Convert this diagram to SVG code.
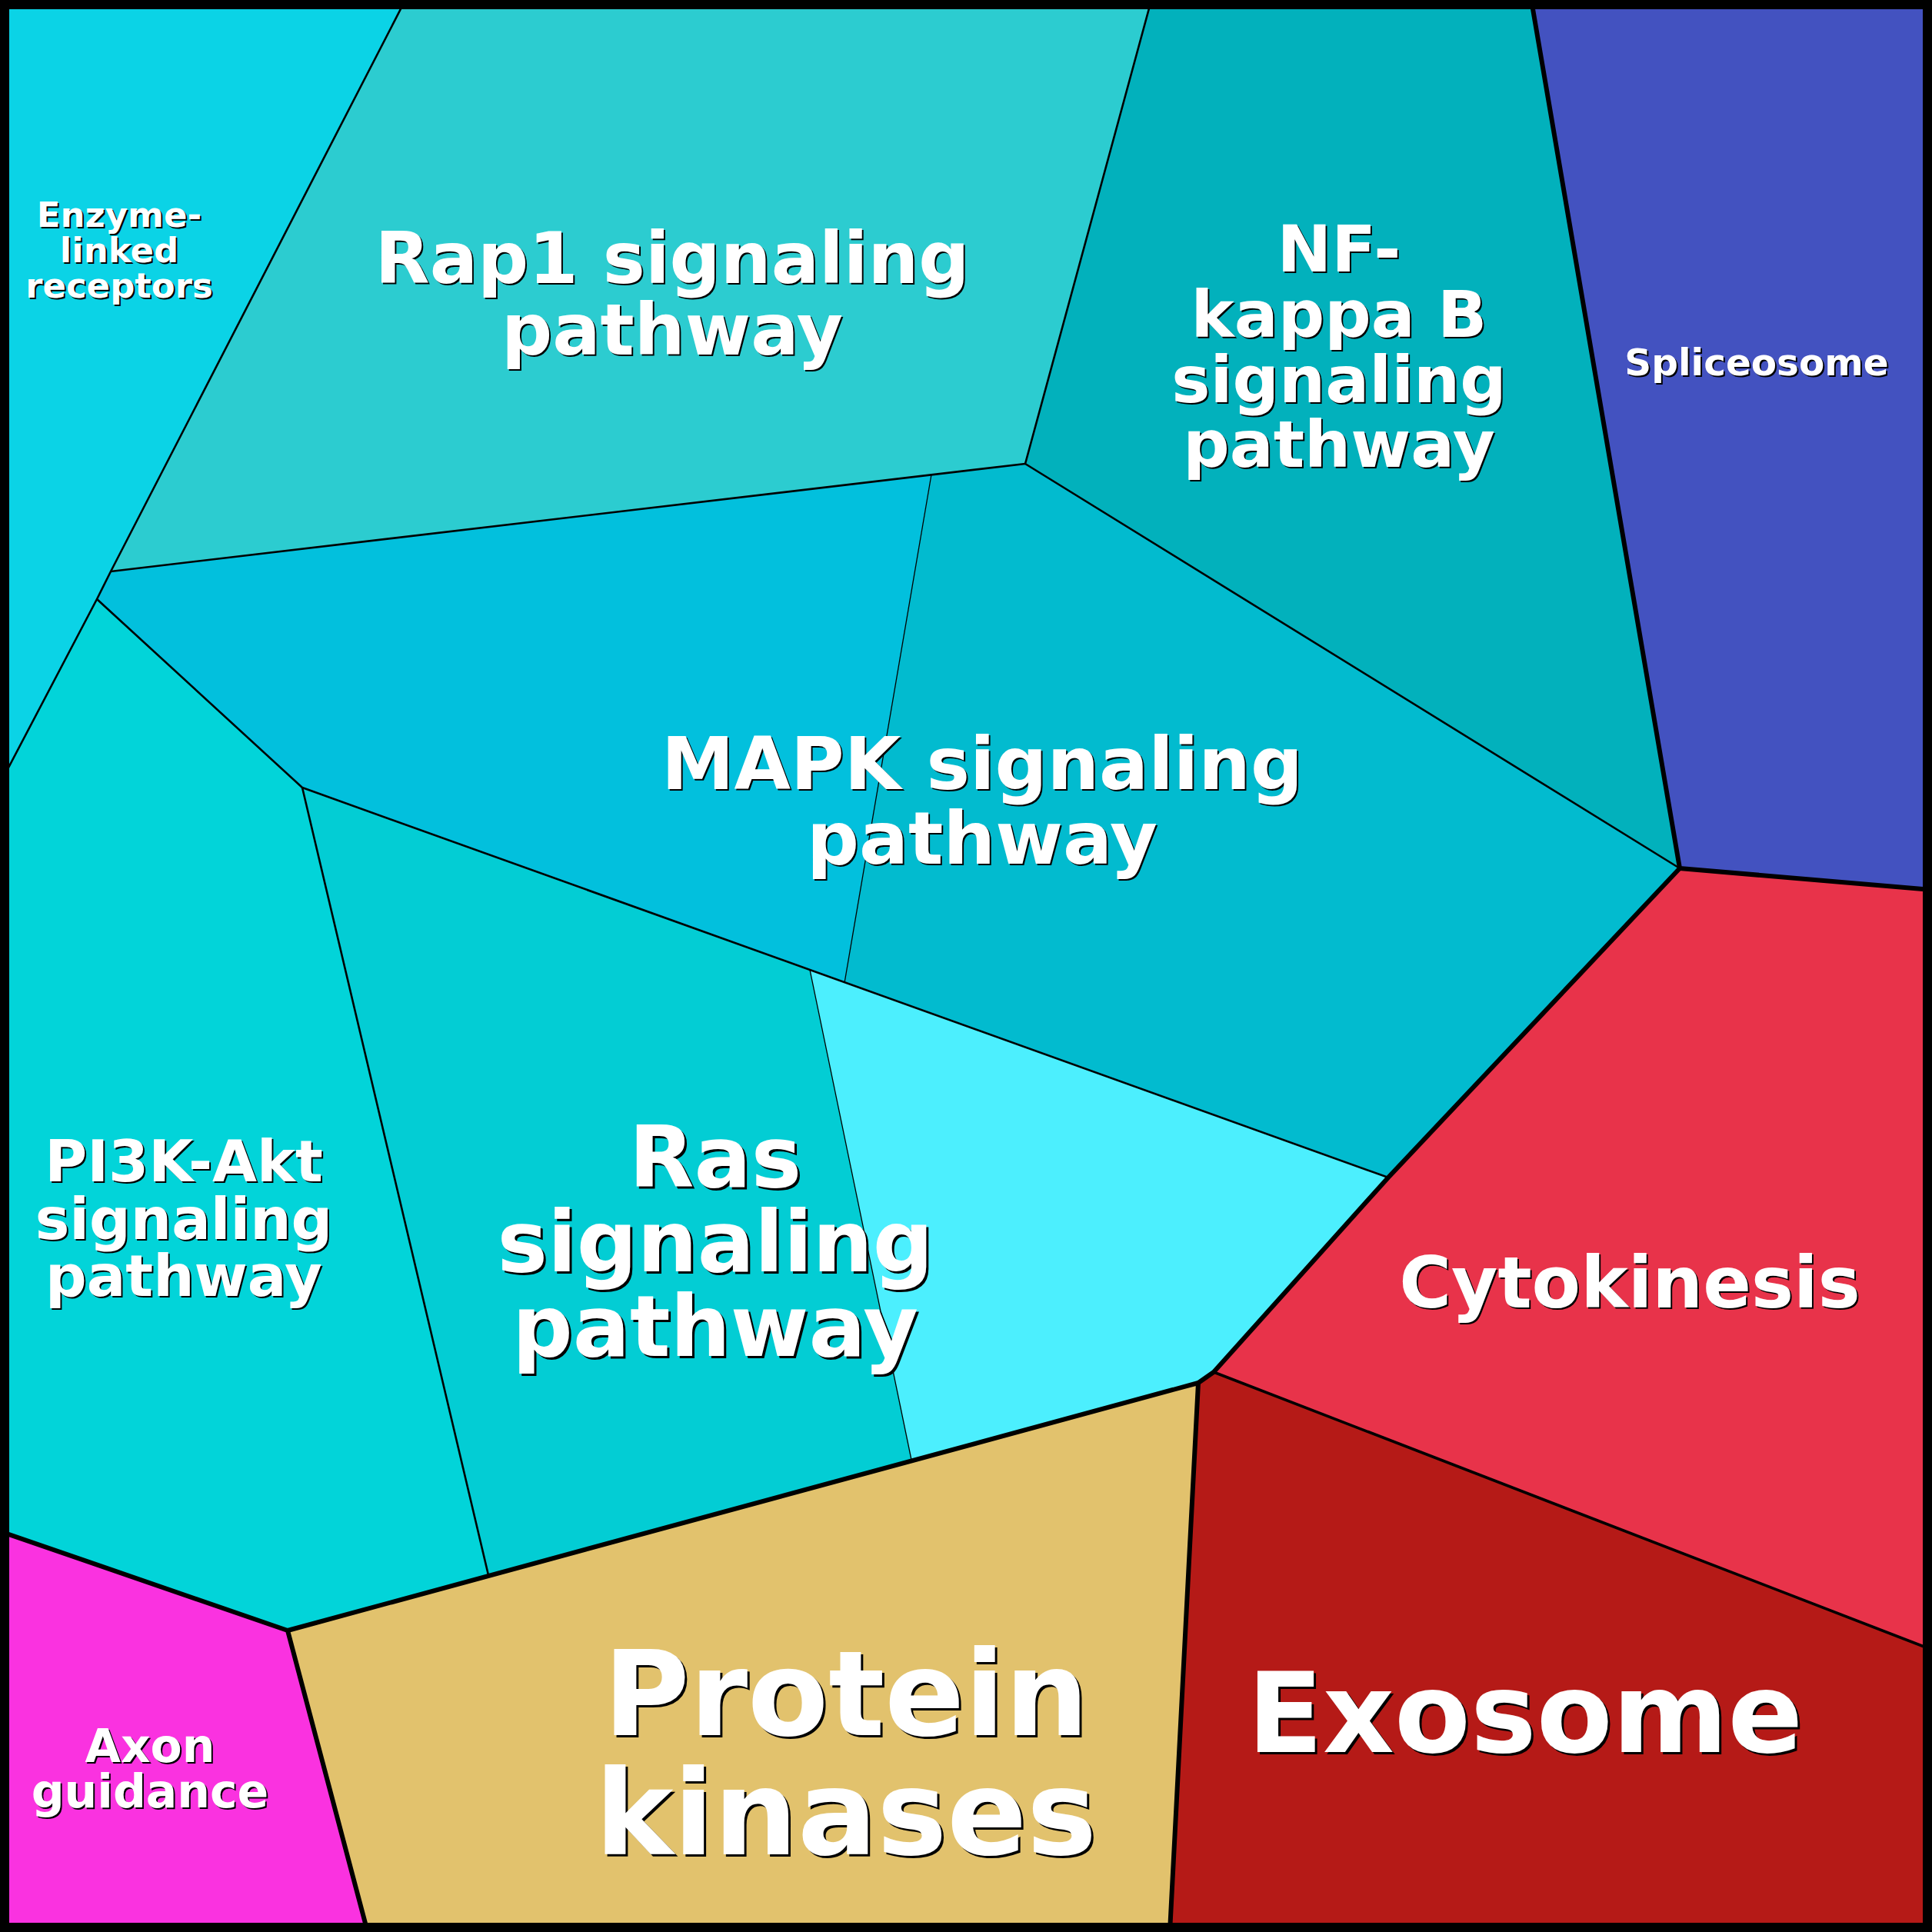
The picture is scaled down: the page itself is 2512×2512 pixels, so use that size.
<svg xmlns="http://www.w3.org/2000/svg" width="2512" height="2512" viewBox="0 0 2512 2512">
<style>
.t{font-family:"DejaVu Sans","Liberation Sans",sans-serif;font-weight:bold;text-anchor:middle;fill:#fff}
.s{fill:#000}
.thick{fill:none;stroke:#000;stroke-width:6;stroke-linejoin:round}
.mid{fill:none;stroke:#000;stroke-width:2.6;stroke-linejoin:round}
.med{fill:none;stroke:#000;stroke-width:3.6;stroke-linejoin:round}
.thin{fill:none;stroke:#000;stroke-width:1.3}
</style>
<g id="cells">
<g id="enzyme-linked-receptors"><polygon points="0,0 527,0 144,743 126,779 0,1019" fill="#0BD3E6"/></g>
<g id="rap1"><polygon points="527,0 1497,0 1333,603 1211,617 144,743" fill="#2CCCD0"/></g>
<g id="nfkb"><polygon points="1497,0 1991,0 2184,1129 1333,603" fill="#02B1BC"/></g>
<g id="spliceosome"><polygon points="1991,0 2512,0 2512,1157 2184,1129" fill="#4352C0"/></g>
<g id="mapk"><polygon points="144,743 1211,617 1098,1278 1053,1261 393,1024 126,779" fill="#02C0DD"/><polygon points="1211,617 1333,603 2184,1129 1805,1531 1098,1278" fill="#02BBCF"/></g>
<g id="ras"><polygon points="1053,1261 1098,1278 1805,1531 1578,1784 1558,1798 1185,1898" fill="#4CEFFE"/><polygon points="393,1024 1053,1261 1185,1898 635,2048" fill="#03CDD4"/></g>
<g id="pi3k-akt"><polygon points="0,1019 126,779 393,1024 635,2048 374,2120 0,1991" fill="#02D4D9"/></g>
<g id="cytokinesis"><polygon points="2184,1129 2512,1157 2512,2145 1578,1784 1805,1531" fill="#E8334A"/></g>
<g id="exosome"><polygon points="1558,1798 1578,1784 2512,2145 2512,2512 1521,2512" fill="#B51A17"/></g>
<g id="protein-kinases"><polygon points="374,2120 635,2048 1185,1898 1558,1798 1521,2512 478,2512" fill="#E2C26D"/></g>
<g id="axon-guidance"><polygon points="0,1991 374,2120 478,2512 0,2512" fill="#FA32E0"/></g>
</g>
<g id="borders">
<polyline class="thin" points="1211,617 1098,1278"/>
<polyline class="thin" points="1053,1261 1185,1898"/>
<polyline class="mid" points="527,0 144,743 126,779 0,1019"/>
<polyline class="mid" points="144,743 1333,603"/>
<polyline class="mid" points="1497,0 1333,603 2184,1129"/>
<polyline class="mid" points="126,779 393,1024 1805,1531"/>
<polyline class="mid" points="393,1024 635,2048"/>
<polyline class="med" points="1578,1784 2512,2145"/>
<polyline class="thick" points="1991,0 2184,1129 2512,1157"/>
<polyline class="thick" points="2184,1129 1805,1531 1578,1784 1558,1798"/>
<polyline class="thick" points="0,1991 374,2120 478,2512"/>
<polyline class="thick" points="374,2120 1558,1798 1521,2512"/>
<rect x="6" y="6" width="2500" height="2500" fill="none" stroke="#000" stroke-width="12"/>
</g>
<g id="labels">
<g font-size="45">
<g class="t s" transform="translate(2,2)"><text x="155" y="295">Enzyme-</text><text x="155" y="341">linked</text><text x="155" y="387">receptors</text></g>
<g class="t"><text x="155" y="295">Enzyme-</text><text x="155" y="341">linked</text><text x="155" y="387">receptors</text></g>
</g>
<g font-size="92.5">
<g class="t s" transform="translate(2,2)"><text x="874" y="368">Rap1 signaling</text><text x="874" y="461">pathway</text></g>
<g class="t"><text x="874" y="368">Rap1 signaling</text><text x="874" y="461">pathway</text></g>
</g>
<g font-size="84.5">
<g class="t s" transform="translate(2,2)"><text x="1741" y="353">NF-</text><text x="1741" y="438">kappa B</text><text x="1741" y="523">signaling</text><text x="1741" y="607">pathway</text></g>
<g class="t"><text x="1741" y="353">NF-</text><text x="1741" y="438">kappa B</text><text x="1741" y="523">signaling</text><text x="1741" y="607">pathway</text></g>
</g>
<g font-size="48.5">
<text class="t s" x="2286" y="490">Spliceosome</text>
<text class="t" x="2284" y="488">Spliceosome</text>
</g>
<g font-size="95">
<g class="t s" transform="translate(2,2)"><text x="1277" y="1026">MAPK signaling</text><text x="1277" y="1123">pathway</text></g>
<g class="t"><text x="1277" y="1026">MAPK signaling</text><text x="1277" y="1123">pathway</text></g>
</g>
<g font-size="75">
<g class="t s" transform="translate(2,2)"><text x="239" y="1536">PI3K-Akt</text><text x="239" y="1611">signaling</text><text x="239" y="1685">pathway</text></g>
<g class="t"><text x="239" y="1536">PI3K-Akt</text><text x="239" y="1611">signaling</text><text x="239" y="1685">pathway</text></g>
</g>
<g font-size="110">
<g class="t s" transform="translate(3,3)"><text x="930" y="1543">Ras</text><text x="930" y="1653">signaling</text><text x="930" y="1763">pathway</text></g>
<g class="t"><text x="930" y="1543">Ras</text><text x="930" y="1653">signaling</text><text x="930" y="1763">pathway</text></g>
</g>
<g font-size="92.5">
<text class="t s" x="2121" y="1702">Cytokinesis</text>
<text class="t" x="2119" y="1700">Cytokinesis</text>
</g>
<g font-size="153">
<g class="t s" transform="translate(3,3)"><text x="1100" y="2256">Protein</text><text x="1100" y="2411">kinases</text></g>
<g class="t"><text x="1100" y="2256">Protein</text><text x="1100" y="2411">kinases</text></g>
</g>
<g font-size="144">
<text class="t s" x="1986" y="2281">Exosome</text>
<text class="t" x="1983" y="2278">Exosome</text>
</g>
<g font-size="60">
<g class="t s" transform="translate(2,2)"><text x="195" y="2291">Axon</text><text x="195" y="2350">guidance</text></g>
<g class="t"><text x="195" y="2291">Axon</text><text x="195" y="2350">guidance</text></g>
</g>
</g>
</svg>
